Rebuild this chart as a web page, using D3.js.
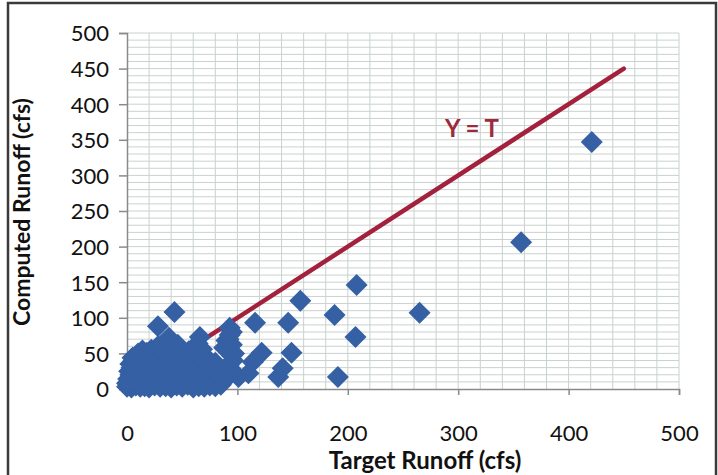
<!DOCTYPE html>
<html><head><meta charset="utf-8">
<script src="https://cdn.jsdelivr.net/npm/d3@7/dist/d3.min.js"></script>
<style>body{margin:0;background:#fff}svg{display:block}</style>
</head><body>
<svg id="c" width="718" height="475"></svg>
<script>
// ---- data ----
const xTicks = [0,100,200,300,400,500];
const yTicks = [0,50,100,150,200,250,300,350,400,450,500];
const lineLabel = "Y = T";
const xTitle = "Target Runoff (cfs)";
const yTitle = "Computed Runoff (cfs)";
const identityLine = [0,450];
// outlier points
const outT = [421,357,265,208,207,188,191,157,146,149,137,141,116,122,114,110,101,43,28,66,93,95];
const outC = [347,206,107,146,73,104,17,124,93,51,17,29,93,51,38,22,17,108,88,73,86,80];
// dense cluster near origin
const cluT = [0,4,8,12,16,20,25,30,35,40,45,50,55,60,65,70,75,80,85,
  2,6,10,14,18,22,27,32,37,42,47,52,57,62,67,72,77,82,
  1,5,10,15,20,25,30,35,40,45,50,55,60,65,70,75,80,86,92,
  3,8,13,17,22,27,33,38,43,48,53,58,63,68,73,78,83,90,
  2,6,12,18,24,30,36,42,48,54,60,66,72,78,84,94,
  4,10,16,22,28,34,40,46,52,58,64,70,76,82,92,
  3,8,14,20,26,32,38,44,50,56,62,68,74,80,96,
  6,10,16,22,28,34,40,46,52,60,70,95,
  5,12,18,24,30,36,42,48,54,66,72,97,
  10,18,26,34,42,50,64,92,
  14,22,30,38,46,56,62,68,88,95,
  28,34,42,64,90,
  32,38,46,64,92,
  38,93,2,0,7];
const cluC = [3,2,5,3,4,2,5,3,4,2,5,3,6,2,4,3,5,4,6,
  9,10,8,9,10,8,9,10,9,8,10,9,8,10,9,8,10,9,
  14,16,15,13,16,14,15,17,14,16,13,15,16,14,15,17,14,16,18,
  20,21,20,19,21,20,20,21,19,21,20,21,20,19,21,20,20,22,
  25,24,26,25,24,26,25,27,24,26,25,24,26,25,27,28,
  30,31,30,31,30,31,30,31,30,30,31,30,30,31,33,
  35,36,34,36,35,37,34,36,35,34,36,35,33,37,40,
  40,41,40,41,40,41,41,40,40,41,40,47,
  44,46,45,44,47,46,45,44,46,45,44,50,
  50,51,50,51,51,50,51,62,
  54,55,56,55,54,53,55,56,58,62,
  60,61,60,60,68,
  62,66,62,64,70,
  72,76,10,8,30];

// ---- layout ----
const svg = d3.select("#c");
const x = d3.scaleLinear().domain([0,500]).range([127,679]);
const y = d3.scaleLinear().domain([0,500]).range([389,33]);
const font = "Lato, 'Open Sans', sans-serif";

// frame
svg.append("rect").attr("x",8).attr("y",3).attr("width",708).attr("height",490)
  .attr("fill","#fff").attr("stroke","#3a3a3a").attr("stroke-width",2.5);

// gridlines
const g = svg.append("g");
g.selectAll("line.h").data(d3.range(10,501,10)).join("line")
  .attr("x1",x(0)).attr("x2",x(500)).attr("y1",d=>y(d)).attr("y2",d=>y(d))
  .attr("stroke","#c8d2ce").attr("stroke-width",1);
g.selectAll("line.v").data(d3.range(20,501,20)).join("line")
  .attr("y1",y(0)).attr("y2",y(500)).attr("x1",d=>x(d)).attr("x2",d=>x(d))
  .attr("stroke","#c8d2ce").attr("stroke-width",1);

// axes
const yAxis = d3.axisLeft(y).tickValues(yTicks).tickSize(8).tickPadding(10).tickFormat(d3.format("d"));
const xAxis = d3.axisBottom(x).tickValues(xTicks).tickSize(6).tickPadding(30).tickFormat(d3.format("d"));
const ya = svg.append("g").attr("transform",`translate(${x(0)},0)`).call(yAxis);
const xa = svg.append("g").attr("transform",`translate(0,${y(0)})`).call(xAxis);
[ya,xa].forEach(a=>{
  a.select(".domain").attr("stroke","#8a8a8a").attr("stroke-width",1.5);
  a.selectAll(".tick line").attr("stroke","#8a8a8a").attr("stroke-width",1.5);
  a.selectAll(".tick text").attr("fill","#111").style("font-family",font).style("font-size","22px");
});
ya.selectAll(".tick text").attr("dy","0.36em");

// identity line
svg.append("line")
  .attr("x1",x(identityLine[0])).attr("y1",y(identityLine[0]))
  .attr("x2",x(identityLine[1])).attr("y2",y(identityLine[1]))
  .attr("stroke","#a3213c").attr("stroke-width",4.5).attr("stroke-linecap","round");

// points
const r = 11;
const diamond = `M0,${-r}L${r},0L0,${r}L${-r},0Z`;
const pts = outT.map((t,i)=>({t,c:outC[i]})).concat(cluT.map((t,i)=>({t,c:cluC[i]})));
svg.append("g").selectAll("path").data(pts).join("path")
  .attr("d",diamond).attr("transform",d=>`translate(${x(d.t)},${y(d.c)})`)
  .attr("fill","#3560a4");

// labels
svg.append("text").attr("x",472).attr("y",137).attr("text-anchor","middle")
  .attr("fill","#9c2a3c").style("font-family",font).style("font-size","24px").style("font-weight","bold")
  .text(lineLabel);
svg.append("text").attr("x",425).attr("y",469).attr("text-anchor","middle")
  .attr("fill","#111").style("font-family",font).style("font-size","24px").style("font-weight","bold")
  .text(xTitle);
svg.append("text").attr("transform","translate(30,212) rotate(-90)").attr("text-anchor","middle")
  .attr("fill","#111").style("font-family",font).style("font-size","23px").style("font-weight","bold")
  .text(yTitle);
</script>
</body></html>
